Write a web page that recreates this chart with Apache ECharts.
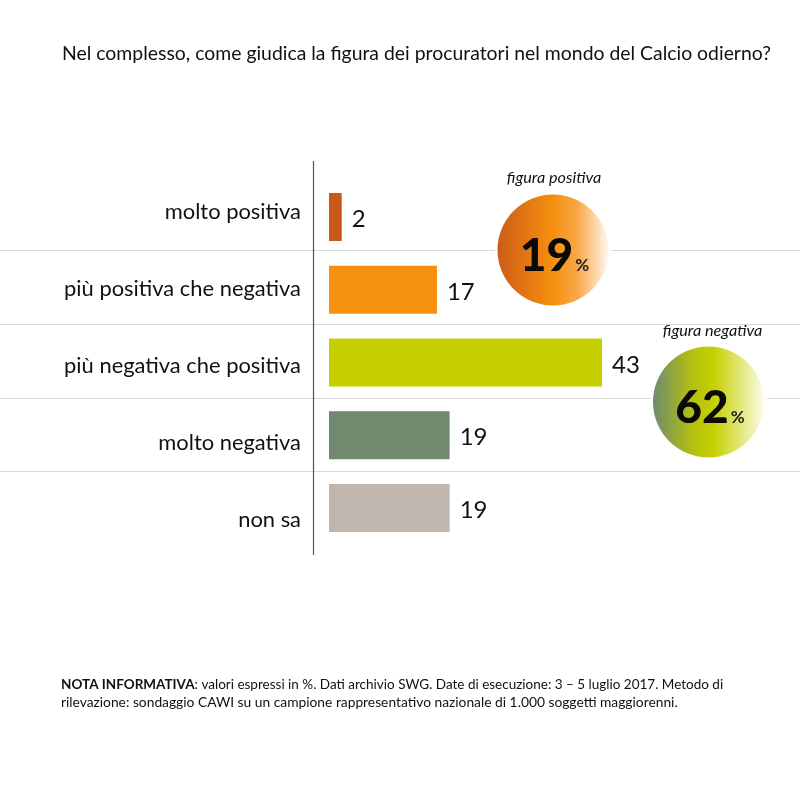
<!DOCTYPE html>
<html><head><meta charset="utf-8"><style>html,body{margin:0;padding:0;background:#fff}#c{width:800px;height:800px}</style>
<script src="https://cdn.jsdelivr.net/npm/echarts@6/dist/echarts.min.js"></script></head>
<body><div id="c"></div>
<script>
const categories=['molto positiva','più positiva che negativa','più negativa che positiva','molto negativa','non sa'];
const values=[2,17,43,19,19];
const colors=['#c9591a','#f6900f','#c6d000','#70896f','#bfb7ad'];
const summaryLabels=['figura positiva','figura negativa'];
const summaryValues=[19,62];
const titleText='Nel complesso, come giudica la figura dei procuratori nel mondo del Calcio odierno?';
const noteBold='NOTA INFORMATIVA';
const noteLines=[': valori espressi in %. Dati archivio SWG. Date di esecuzione: 3 – 5 luglio 2017. Metodo di','rilevazione: sondaggio CAWI su un campione rappresentativo nazionale di 1.000 soggetti maggiorenni.'];
const FONT='Lato, "Open Sans", sans-serif';
const sepY=[250.5,324.5,398.5,471.5];
function grad(stops){return {type:'linear',x:0,y:0,x2:1,y2:0,colorStops:stops};}
function circle(cx,cy,label,val,stops,labelX,labelY){
  return [
   {type:'circle',z:5,shape:{cx,cy,r:58},style:{fill:'#fff'}},
   {type:'circle',z:6,shape:{cx,cy,r:55.5},style:{fill:grad(stops)}},
   {type:'text',z:7,x:labelX,y:labelY,style:{text:label,fill:'#111',font:'italic 16.2px '+FONT,align:'center',verticalAlign:'middle'}},
   {type:'text',z:8,x:cx+1.5,y:cy+6.5,style:{
     text:'{a|'+val+'}{b|%}',align:'center',verticalAlign:'middle',
     rich:{a:{font:'900 46px '+FONT,fill:'#0a0a0a'},b:{font:'bold 17px '+FONT,fill:'#222',padding:[18,0,0,2]}}}}
  ];
}
const g=[];
sepY.forEach(y=>g.push({type:'line',z:-1,silent:true,shape:{x1:0,y1:y,x2:800,y2:y},style:{stroke:'#d9d9d9',lineWidth:1.2}}));
g.push({type:'line',z:1,shape:{x1:313.5,y1:161,x2:313.5,y2:555},style:{stroke:'#555',lineWidth:1.2}});
g.push(...circle(553,250,summaryLabels[0],summaryValues[0],[{offset:0,color:'#cc5c18'},{offset:.5,color:'#f6900f'},{offset:.72,color:'#f8a846'},{offset:1,color:'#fff8f0'}],554,178));
g.push(...circle(708.5,402,summaryLabels[1],summaryValues[1],[{offset:0,color:'#6f8a70'},{offset:.35,color:'#b3c010'},{offset:.55,color:'#c6d000'},{offset:1,color:'#fbfce8'}],712.5,331));
g.push({type:'text',z:7,left:61,top:678,style:{
  text:'{b|'+noteBold+'}{n|'+noteLines[0]+'}\n{m|'+noteLines[1]+'}',
  rich:{b:{font:'bold 13.5px '+FONT,fill:'#111',lineHeight:18},n:{font:'13.5px '+FONT,fill:'#111',lineHeight:18},m:{font:'13.8px '+FONT,fill:'#111',lineHeight:18}}}});
const chart=echarts.init(document.getElementById('c'));
chart.setOption({
  backgroundColor:'#fff',animation:false,
  title:{text:titleText,left:57,top:39,textStyle:{fontFamily:FONT,fontSize:19.4,fontWeight:'normal',color:'#111'}},
  grid:[
    {left:329,width:273,top:180.6,height:363.8},
    {left:329,width:273,top:173.5,height:385}
  ],
  xAxis:[
    {type:'value',min:0,max:43,show:false,gridIndex:0},
    {type:'value',min:0,max:43,show:false,gridIndex:1}
  ],
  yAxis:[
    {type:'category',inverse:true,gridIndex:0,data:categories,axisLine:{show:false},axisTick:{show:false},axisLabel:{show:false}},
    {type:'category',inverse:true,gridIndex:1,data:categories,axisLine:{show:false},axisTick:{show:false},
      axisLabel:{margin:28,fontFamily:FONT,fontSize:21.9,color:'#111'}}
  ],
  series:[
    {type:'bar',xAxisIndex:0,yAxisIndex:0,barWidth:48,data:values.map((v,i)=>({value:v,itemStyle:{color:colors[i]}})),
     label:{show:true,position:'right',distance:10,offset:[0,2.5],fontFamily:FONT,fontSize:24,color:'#111'}},
    {type:'bar',xAxisIndex:1,yAxisIndex:1,silent:true,data:[]}
  ],
  graphic:g
});
</script></body></html>
